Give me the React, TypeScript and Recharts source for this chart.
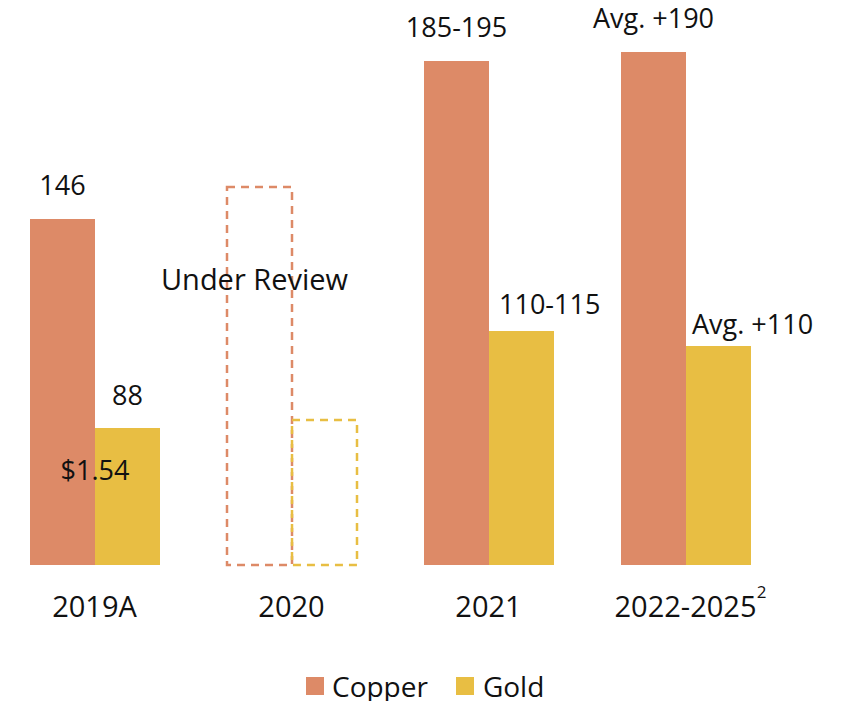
import React from 'react';
import { BarChart, Bar, XAxis, YAxis, Legend, Cell, LabelList } from 'recharts';

const years = ['2019A', '2020', '2021', '2022-2025'];
const yearSup = ['', '', '', '2'];
// bar heights (copper on its own scale, gold on its own scale)
const copperValues = [146, 159.5, 212.7, 216.5];
const goldValues = [88, 93.1, 150.3, 140.7];
const copperLabels = ['146', 'Under Review', '185-195', 'Avg. +190'];
const goldLabels = ['88', '', '110-115', 'Avg. +110'];
const innerLabels = ['$1.54', '', '', ''];
const outlookOnly = [false, true, false, false];

const COPPER = '#DD8A67';
const GOLD = '#E8BE43';
const FONT = "'Open Sans', 'Noto Sans', sans-serif";
const FS = 27;

const data = years.map((y, i) => ({
  year: y,
  copper: copperValues[i],
  gold: goldValues[i],
}));

const CopperLabel = (props: any) => {
  const { x, y, width, index } = props;
  const text = copperLabels[index];
  if (!text) return null;
  if (outlookOnly[index]) {
    return (
      <text x={x + width / 2 - 5} y={y + 103} textAnchor="middle" fontFamily={FONT} fontSize={29} fill="#111">
        {text}
      </text>
    );
  }
  return (
    <text x={x + width / 2} y={y - 24} textAnchor="middle" fontFamily={FONT} fontSize={FS} fill="#111">
      {text}
    </text>
  );
};

const GoldLabel = (props: any) => {
  const { x, y, width, index } = props;
  const text = goldLabels[index];
  const inner = innerLabels[index];
  return (
    <g>
      {text && index === 0 && (
        <text x={x + width / 2} y={y - 23} textAnchor="middle" fontFamily={FONT} fontSize={FS} fill="#111">
          {text}
        </text>
      )}
      {text && index > 0 && (
        <text x={x + (index === 2 ? 10 : 6)} y={y - (index === 2 ? 17 : 12)} textAnchor="start" fontFamily={FONT} fontSize={FS} fill="#111">
          {text}
        </text>
      )}
      {inner && (
        <text x={x} y={y + 52} textAnchor="middle" fontFamily={FONT} fontSize={FS} fill="#111">
          {inner}
        </text>
      )}
    </g>
  );
};

const YearTick = (props: any) => {
  const { x, y, payload, index } = props;
  const sup = yearSup[index];
  return (
    <g>
      <text x={x} y={y + 52} textAnchor="middle" fontFamily={FONT} fontSize={29} fill="#111">
        {payload.value}
      </text>
      {sup && (
        <text x={x + 76} y={y + 33} textAnchor="middle" fontFamily={FONT} fontSize={17} fill="#111">
          {sup}
        </text>
      )}
    </g>
  );
};

const LegendContent = () => (
  <div style={{ display: 'flex', alignItems: 'center', height: 40, boxSizing: 'border-box', paddingTop: 10, lineHeight: '30px', fontFamily: FONT, fontSize: 28, color: '#111', whiteSpace: 'nowrap' }}>
    <span style={{ display: 'inline-block', width: 18, height: 18, background: COPPER, marginRight: 8 }} />
    <span style={{ marginRight: 28 }}>Copper</span>
    <span style={{ display: 'inline-block', width: 18, height: 18, background: GOLD, marginRight: 9 }} />
    <span>Gold</span>
  </div>
);

export default function App() {
  return (
    <div style={{ marginLeft: -12, marginTop: -8, fontFamily: FONT }}>
      <BarChart
        width={848}
        height={701}
        data={data}
        margin={{ top: 0, right: 60, left: 0, bottom: 0 }}
        barGap={0}
        barSize={65}
      >
        <XAxis
          dataKey="year"
          axisLine={false}
          tickLine={false}
          tickSize={0}
          tickMargin={0}
          height={96}
          interval={0}
          tick={<YearTick />}
        />
        <YAxis yAxisId="c" hide domain={[0, 238.4]} />
        <YAxis yAxisId="g" hide orientation="right" domain={[0, 362.9]} />
        <Legend
          verticalAlign="bottom"
          height={40}
          wrapperStyle={{ left: 310, width: 320 }}
          content={<LegendContent />}
        />
        <Bar yAxisId="c" dataKey="copper" name="Copper" fill={COPPER} isAnimationActive={false}>
          {data.map((d, i) => (
            <Cell
              key={`c-${i}`}
              fill={outlookOnly[i] ? 'none' : COPPER}
              stroke={outlookOnly[i] ? COPPER : 'none'}
              strokeWidth={outlookOnly[i] ? 2.5 : 0}
              strokeDasharray={outlookOnly[i] ? '8 6' : undefined}
            />
          ))}
          <LabelList dataKey="copper" content={<CopperLabel />} />
        </Bar>
        <Bar yAxisId="g" dataKey="gold" name="Gold" fill={GOLD} isAnimationActive={false}>
          {data.map((d, i) => (
            <Cell
              key={`g-${i}`}
              fill={outlookOnly[i] ? 'none' : GOLD}
              stroke={outlookOnly[i] ? GOLD : 'none'}
              strokeWidth={outlookOnly[i] ? 2.5 : 0}
              strokeDasharray={outlookOnly[i] ? '8 6' : undefined}
            />
          ))}
          <LabelList dataKey="gold" content={<GoldLabel />} />
        </Bar>
      </BarChart>
    </div>
  );
}
